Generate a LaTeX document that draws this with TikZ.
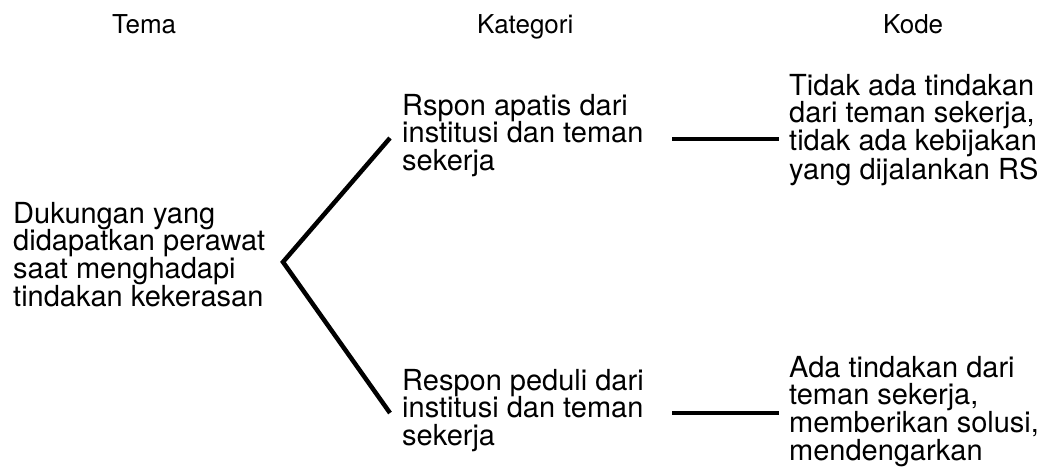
\documentclass[tikz,border=0pt]{standalone}
\usepackage{fontspec}
\setmainfont{TeX Gyre Heros}
\begin{document}
\begin{tikzpicture}[x=1pt,y=-1pt,
  head/.style={anchor=base west,inner sep=0pt,font=\fontsize{26}{28}\selectfont},
  body/.style={anchor=north west,inner sep=0pt,align=left,font=\fontsize{29}{27.6}\selectfont},
  link/.style={line width=4.5pt,line cap=butt,line join=miter}]
\useasboundingbox (0,0) rectangle (1047,475);
\node[head] (h1) at (112,33) {Tema};
\node[head] (h2) at (477,33) {Kategori};
\node[head] (h3) at (883,33) {Kode};
\node[body] (tema) at (13,202) {Dukungan yang\\didapatkan perawat\\saat menghadapi\\tindakan kekerasan};
\node[body] (k1) at (402,94) {Rspon apatis dari\\institusi dan teman\\sekerja};
\node[body] (k2) at (402,369) {Respon peduli dari\\institusi dan teman\\sekerja};
\node[body] (c1) at (789,74) {Tidak ada tindakan\\dari teman sekerja,\\tidak ada kebijakan\\yang dijalankan RS};
\node[body] (c2) at (789,356) {Ada tindakan dari\\teman sekerja,\\memberikan solusi,\\mendengarkan};
\coordinate (v) at (283,262);
\coordinate (k1in) at (390,138);
\coordinate (k2in) at (390,413);
\coordinate (k1out) at (672,139);
\coordinate (c1in) at (779,139);
\coordinate (k2out) at (672,413);
\coordinate (c2in) at (779,413);
\draw[link] (k1in) -- (v) -- (k2in);
\draw[link] (k1out) -- (c1in);
\draw[link] (k2out) -- (c2in);
\end{tikzpicture}
\end{document}
